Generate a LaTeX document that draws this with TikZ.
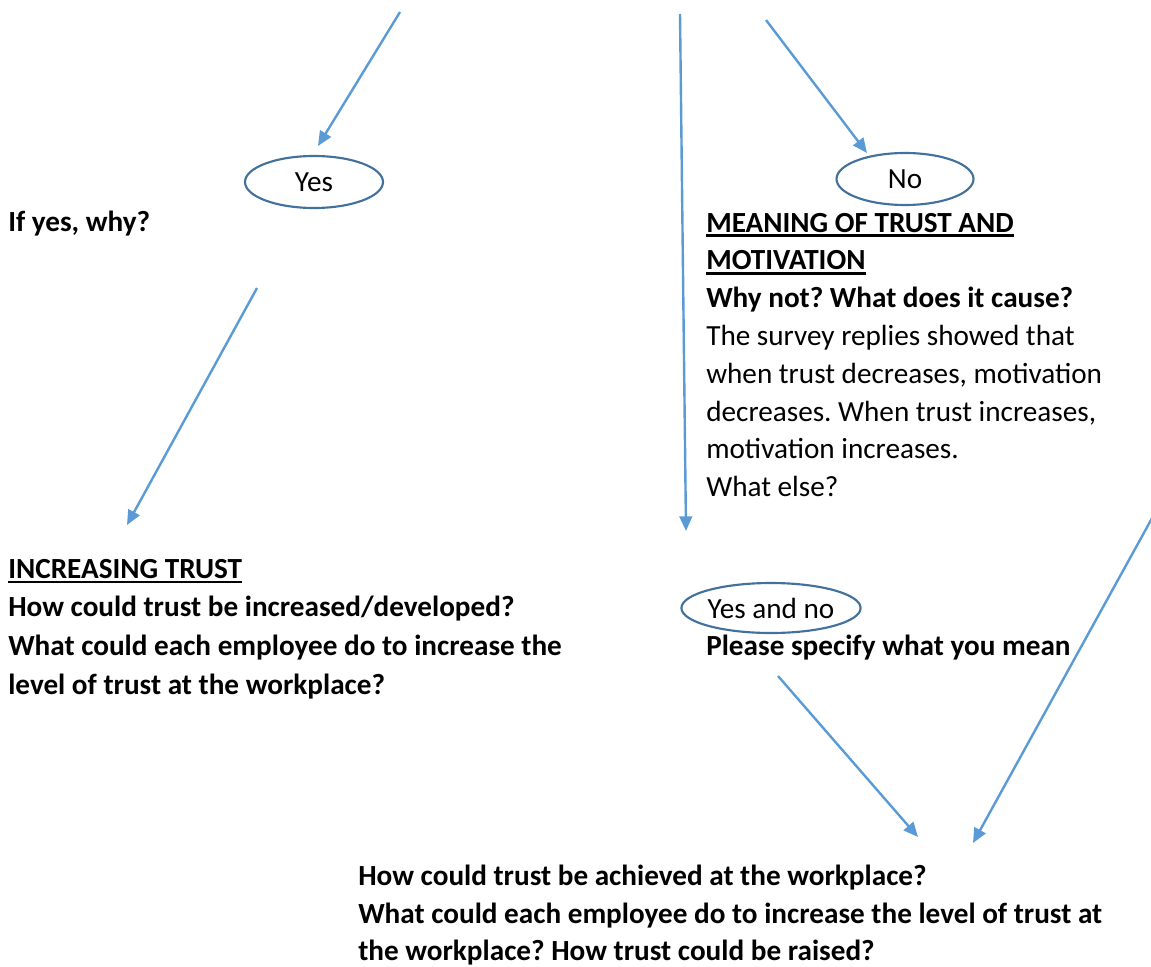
\documentclass[tikz,border=0pt]{standalone}
\usepackage{fontspec}
\setmainfont{Carlito}
\usetikzlibrary{arrows.meta,shapes.geometric,calc}
\definecolor{arrowblue}{HTML}{5B9BD5}
\definecolor{ringblue}{HTML}{41719C}
\newcommand{\bodysize}{\fontsize{21.9pt}{28.4pt}\selectfont}
\frenchspacing
\begin{document}
\begin{tikzpicture}[x=0.75pt,y=-0.75pt,
  txt/.style={anchor=base west,inner sep=0pt,font=\bodysize},
  bold/.style={anchor=base west,inner sep=0pt,font=\bodysize\bfseries},
  answer/.style={draw=ringblue,line width=1.6pt,ellipse,inner sep=0pt,font=\bodysize},
  flow/.style={draw=arrowblue,line width=1.8pt,-{Triangle[length=11pt,width=9.5pt]}},
  uline/.style={line width=1.8pt}]
\useasboundingbox (0,0) rectangle (1151,966);
\clip (0,0) rectangle (1151,966);

% answer ellipses
\node[answer,minimum width=103.5pt,minimum height=39pt] (yes) at (314,182) {Yes};
\node[answer,minimum width=102.75pt,minimum height=39pt] (no) at (905,179) {No};
\node[answer,minimum width=126.75pt,minimum height=37.5pt] (yesno) at (771,608) {Yes and no};

% left column
\node[bold] (ifyes) at (8,231) {If yes, why?};
\node[bold] (inchead) at (8,578) {INCREASING TRUST};
\draw[uline] ($(inchead.base west)+(0,4)$) -- ($(inchead.base east)+(0,4)$);
\node[bold] (inc1) at (8,616.8) {How could trust be increased/developed?};
\node[bold] (inc2) at (8,655.6) {What could each employee do to increase the};
\node[bold] (inc3) at (8,694.4) {level of trust at the workplace?};

% right column
\node[bold] (mean1) at (706,232) {MEANING OF TRUST AND};
\draw[uline] ($(mean1.base west)+(0,3.5)$) -- ($(mean1.base east)+(0,3.5)$);
\node[bold] (mean2) at (706,269.8) {MOTIVATION};
\draw[uline] ($(mean2.base west)+(0,3.5)$) -- ($(mean2.base east)+(0,3.5)$);
\node[bold] (whynot) at (706,307.6) {Why not? What does it cause?};
\node[txt] (surv1) at (706,345.4) {The survey replies showed that};
\node[txt] (surv2) at (706,383.2) {when trust decreases, motivation};
\node[txt] (surv3) at (706,421) {decreases. When trust increases,};
\node[txt] (surv4) at (706,458.8) {motivation increases.};
\node[txt] (else) at (706,496.6) {What else?};
\node[bold] (specify) at (706,655) {Please specify what you mean};

% bottom block
\node[bold] (ach1) at (358,885.5) {How could trust be achieved at the workplace?};
\node[bold] (ach2) at (358,923) {What could each employee do to increase the level of trust at};
\node[bold] (ach3) at (358,960.5) {the workplace? How trust could be raised?};

% connector ends
\coordinate (s1) at (400,12);   \coordinate (e1) at (318,146);
\coordinate (s2) at (680,14);   \coordinate (e2) at (686,531);
\coordinate (s3) at (766,20);   \coordinate (e3) at (867,153);
\coordinate (s4) at (257,288);  \coordinate (e4) at (127,525);
\coordinate (s5) at (1162,500); \coordinate (e5) at (973,843);
\coordinate (s6) at (778,676);  \coordinate (e6) at (918,837);

\draw[flow] (s1) -- (e1);
\draw[flow] (s2) -- (e2);
\draw[flow] (s3) -- (e3);
\draw[flow] (s4) -- (e4);
\draw[flow] (s5) -- (e5);
\draw[flow] (s6) -- (e6);
\end{tikzpicture}
\end{document}
